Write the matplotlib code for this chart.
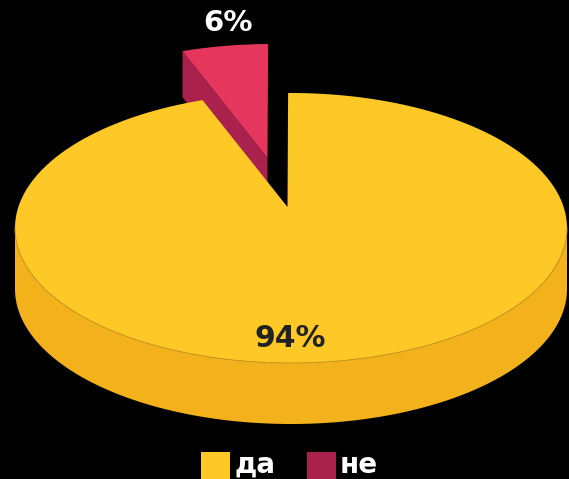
import numpy as np
import matplotlib
matplotlib.use("Agg")
import matplotlib.pyplot as plt
from matplotlib.patches import Polygon, Rectangle

categories = ["да", "не"]
values = [94, 6]
labels = ["94%", "6%"]
top_colors = ["#FEC926", "#E5375E"]
side_colors = ["#F3B21C", "#A9214C"]

W, H = 569, 479
fig = plt.figure(figsize=(W / 100, H / 100), dpi=100, facecolor="black")
ax = fig.add_axes([0, 0, 1, 1])
ax.set_xlim(0, W)
ax.set_ylim(H, 0)
ax.axis("off")

font = "DejaVu Sans"
cx, cy, rx, ry = 291, 228, 276, 135
apex = np.array([287.5, 207.0])
depth = 61
offset = np.array([-20.0, -49.0])
red_depth = 46

total = sum(values)
span_small = np.radians(18.1 / 21.6 * 360 * values[1] / total)
t_start = np.radians(90.6)


def arc(t0, t1, n=400):
    t = np.linspace(t0, t1, n)
    return np.column_stack([cx + rx * np.cos(t), cy - ry * np.sin(t)])


# Detached small slice: cut face, then top face
small = arc(t_start, t_start + span_small, 40) + offset
a2 = apex + offset
ax.add_patch(Polygon([small[-1], a2, a2 + [0, red_depth], small[-1] + [0, red_depth]],
                     closed=True, fc=side_colors[1], ec="none", zorder=1))
ax.add_patch(Polygon(np.vstack([small, a2]), closed=True, fc=top_colors[1], ec="none", zorder=2))

# Main slice: outer wall, then top face
wall = arc(np.pi, 2 * np.pi)
ax.add_patch(Polygon(np.vstack([wall, (wall + [0, depth])[::-1]]), closed=True,
                     fc=side_colors[0], ec="none", zorder=3))
main = arc(t_start + span_small, t_start + 2 * np.pi)
ax.add_patch(Polygon(np.vstack([main, apex]), closed=True, fc=top_colors[0], ec="none", zorder=4))
ax.plot(*arc(np.pi, 2 * np.pi).T, color="#C99A1E", lw=0.7, zorder=5)

txt = dict(family=font, fontweight="bold", ha="center", va="center", zorder=6)
ax.text(290.5, 338.5, labels[0], color="#222222", fontsize=21.5, **txt)
ax.text(228.5, 23, labels[1], color="white", fontsize=21, **txt)

# Legend
ax.add_patch(Rectangle((201, 452), 29, 27, fc=top_colors[0], ec="none", zorder=6))
ax.add_patch(Rectangle((307, 452), 29, 27, fc=side_colors[1], ec="none", zorder=6))
ltxt = dict(family=font, fontweight="bold", color="white", fontsize=20, ha="left",
            va="baseline", zorder=6)
ax.text(235, 473, categories[0], **ltxt)
ax.text(340, 473, categories[1], **ltxt)

fig.savefig("out.png", dpi=100, facecolor="black")
